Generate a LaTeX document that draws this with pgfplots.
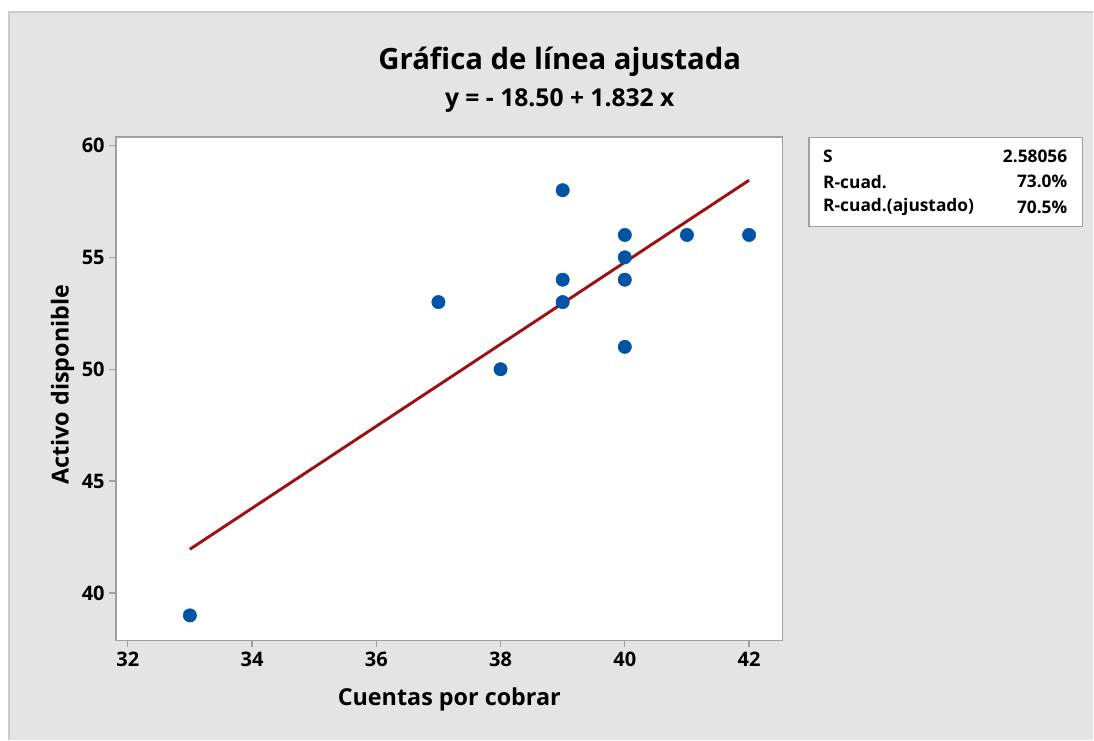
\documentclass[border=0pt]{standalone}
\usepackage{fontspec}
\setmainfont{Open Sans}
\usepackage{pgfplots}
\pgfplotsset{compat=1.18}
\definecolor{bgray}{HTML}{E4E4E4}
\definecolor{framegray}{HTML}{CCCCCC}
\definecolor{axgray}{HTML}{A0A0A0}
\definecolor{ptblue}{HTML}{0054A6}
\definecolor{fitred}{HTML}{9C1212}
\begin{document}
\begin{tikzpicture}
% canvas, 1 px = 0.75pt
\fill[white] (0,0) rectangle (820.5pt,555pt);
\fill[bgray] (6.75pt,0) rectangle (820.5pt,546pt);
\draw[framegray, line width=0.8pt] (6.75pt,0) -- (6.75pt,546pt) -- (820.5pt,546pt);

\node[font=\fontsize{22}{26}\selectfont\bfseries] at (420pt,508.5pt) {Gráfica de línea ajustada};
\node[font=\fontsize{18.5}{22}\selectfont\bfseries] at (420pt,479.25pt) {y = - 18.50 + 1.832 x};

\begin{axis}[
  at={(87pt,74.25pt)}, anchor=south west,
  scale only axis, width=500.25pt, height=378pt,
  xmin=31.81, xmax=42.54, ymin=37.87, ymax=60.38,
  xtick={32,34,...,42}, ytick={40,45,...,60},
  axis background/.style={fill=white},
  axis line style={axgray, line width=1.2pt},
  tick style={axgray, line width=1pt},
  tick align=outside, tick pos=left, major tick length=5pt,
  ticklabel style={font=\fontsize{15}{17}\selectfont\bfseries},
  /pgf/number format/assume math mode=true,
  xlabel={Cuentas por cobrar}, ylabel={Activo disponible},
  label style={font=\fontsize{17.5}{21}\selectfont\bfseries},
  xlabel style={at={(axis description cs:0.5,-0.117)}, anchor=center},
  ylabel style={at={(axis description cs:-0.08,0.508)}, anchor=center},
]
\addplot[only marks, mark=*, mark size=5pt, color=ptblue] coordinates {
  (33,39) (37,53) (38,50) (39,58) (39,54) (39,53)
  (40,56) (40,55) (40,54) (40,51) (41,56) (42,56)
};
\addplot[fitred, line width=2.2pt] coordinates {
  (33,41.956) (42,58.444)
};
\end{axis}

% summary box
\draw[axgray, fill=white, line width=0.9pt] (607pt,385pt) rectangle (812.25pt,452pt);
\begin{scope}[every node/.style={font=\fontsize{13}{15}\selectfont\bfseries, inner sep=0pt}]
\node[anchor=west] at (617.5pt,437.5pt) {S};
\node[anchor=east] at (801pt,437.5pt) {2.58056};
\node[anchor=west] at (617.5pt,418.7pt) {R-cuad.};
\node[anchor=east] at (801pt,418.7pt) {73.0\%};
\node[anchor=west] at (617.5pt,399.5pt) {R-cuad.(ajustado)};
\node[anchor=east] at (801pt,399.5pt) {70.5\%};
\end{scope}
\end{tikzpicture}
\end{document}
